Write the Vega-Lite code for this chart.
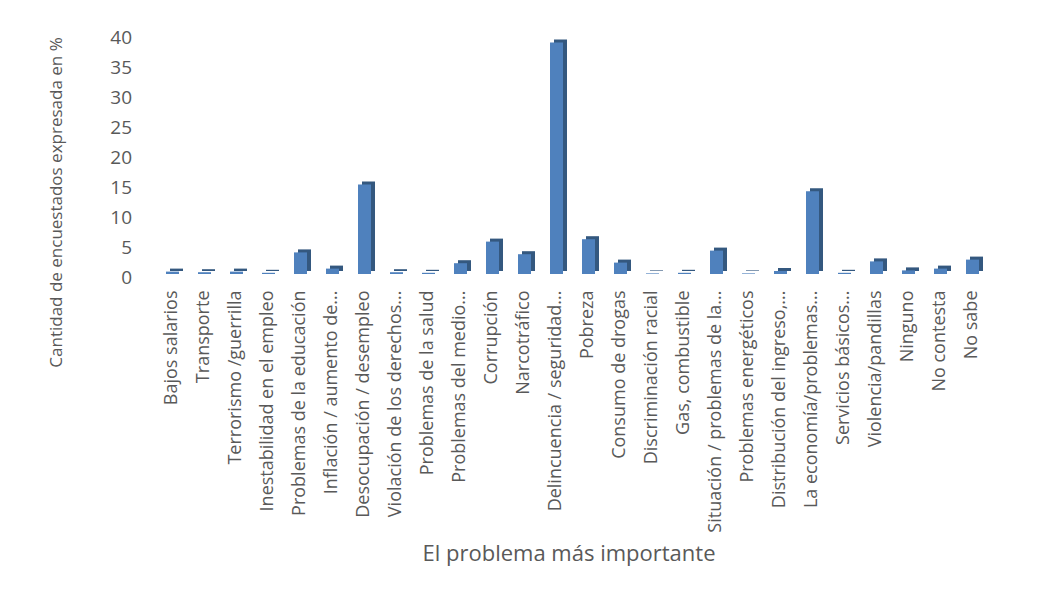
{
  "$schema": "https://vega.github.io/schema/vega-lite/v6.json",
  "width": 832,
  "height": 240,
  "autosize": {"type": "none"},
  "padding": {"left": 158.5, "top": 37, "right": 49.5, "bottom": 313},
  "background": "white",
  "config": {
    "view": {"stroke": null},
    "font": "Open Sans"
  },
  "data": {
    "values": [
      {"problema": "Bajos salarios", "valor": 0.4},
      {"problema": "Transporte", "valor": 0.3},
      {"problema": "Terrorismo /guerrilla", "valor": 0.4},
      {"problema": "Inestabilidad en el empleo", "valor": 0.2},
      {"problema": "Problemas de la educación", "valor": 3.6},
      {"problema": "Inflación / aumento de...", "valor": 0.9},
      {"problema": "Desocupación  / desempleo", "valor": 14.9},
      {"problema": "Violación de los derechos...", "valor": 0.3},
      {"problema": "Problemas de la salud", "valor": 0.2},
      {"problema": "Problemas del medio...", "valor": 1.8},
      {"problema": "Corrupción", "valor": 5.4},
      {"problema": "Narcotráfico", "valor": 3.3},
      {"problema": "Delincuencia / seguridad...", "valor": 38.6},
      {"problema": "Pobreza", "valor": 5.8},
      {"problema": "Consumo de drogas", "valor": 1.9},
      {"problema": "Discriminación racial", "valor": 0.1},
      {"problema": "Gas, combustible", "valor": 0.2},
      {"problema": "Situación / problemas de la...", "valor": 3.9},
      {"problema": "Problemas energéticos", "valor": 0.1},
      {"problema": "Distribución del ingreso,...", "valor": 0.5},
      {"problema": "La economía/problemas...", "valor": 13.8},
      {"problema": "Servicios básicos...", "valor": 0.2},
      {"problema": "Violencia/pandillas", "valor": 2.1},
      {"problema": "Ninguno", "valor": 0.6},
      {"problema": "No contesta", "valor": 0.9},
      {"problema": "No sabe", "valor": 2.4}
    ]
  },
  "encoding": {
    "x": {
      "field": "problema",
      "type": "nominal",
      "sort": null,
      "scale": {"paddingInner": 0, "paddingOuter": 0},
      "axis": {
        "title": "El problema más importante",
        "titleFont": "Open Sans",
        "titleFontSize": 22,
        "titleFontWeight": "normal",
        "titleColor": "#595959",
        "titleX": 410,
        "titleY": 283,
        "titleBaseline": "alphabetic",
        "titleAlign": "center",
        "labelAngle": -90,
        "labelAlign": "right",
        "labelBaseline": "middle",
        "labelFontSize": 18,
        "labelColor": "#595959",
        "labelPadding": 13,
        "labelOffset": -3,
        "labelLimit": 400,
        "labelOverlap": false,
        "domain": false,
        "ticks": false
      }
    },
    "y": {
      "field": "valor",
      "type": "quantitative",
      "scale": {"domain": [0, 40], "nice": false},
      "axis": {
        "title": "Cantidad de encuestados expresada en %",
        "titleFont": "Open Sans",
        "titleFontSize": 17,
        "titleFontWeight": "normal",
        "titleColor": "#595959",
        "titleAngle": -90,
        "titleX": -97,
        "titleY": 165,
        "titleBaseline": "alphabetic",
        "titleAlign": "center",
        "values": [0, 5, 10, 15, 20, 25, 30, 35, 40],
        "labelFontSize": 19,
        "labelColor": "#595959",
        "labelPadding": 27,
        "grid": false,
        "domain": false,
        "ticks": false
      }
    }
  },
  "layer": [
    {
      "mark": {"type": "bar", "width": 13, "xOffset": 2, "yOffset": -6, "color": "#34587f", "cornerRadius": 0}
    },
    {
      "mark": {"type": "bar", "width": 13, "xOffset": -2, "yOffset": -3, "color": "#4f81bd", "cornerRadius": 0}
    }
  ]
}
